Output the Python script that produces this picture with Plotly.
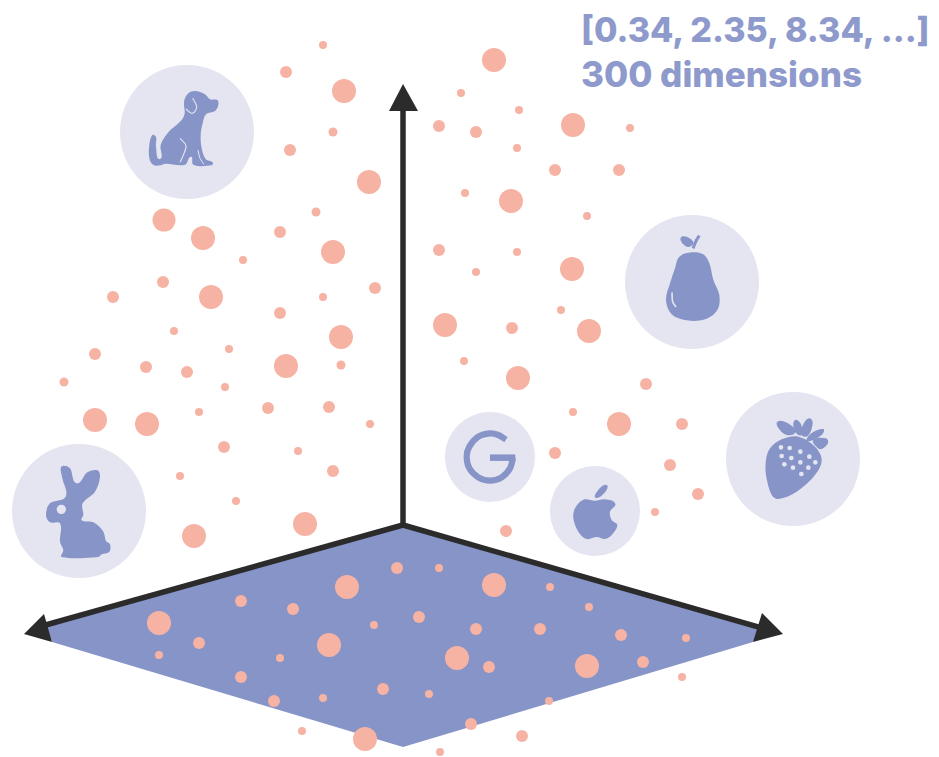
import math
import plotly.graph_objects as go

W, H = 939, 757
PAGE_MARGIN = 8
PEACH = "#f6b3a3"
BLUE = "#8794c8"
PALE = "#e4e5f0"
DARK = "#2b2b2b"
TEXT = "#8e99cc"

# air dots: x, y, diameter
air_x = [323,286,344,333,290,369,164,203,316,280,333,243,163,113,211,375,323,280,174,341,229,95,146,187,286,341,225,64,95,147,199,268,329,370,224,298,180,333,236,305,194,
         494,461,519,439,476,573,630,517,555,619,465,511,587,439,517,476,572,561,445,512,589,464,518,646,573,619,682,555,670,698,655,506]
air_y = [45,72,91,132,150,182,220,238,212,232,252,260,282,297,297,288,297,313,331,337,349,354,367,372,366,365,387,382,420,424,412,408,407,424,447,451,476,471,501,524,536,
         60,93,110,126,132,125,128,148,170,170,193,201,216,250,252,272,269,310,325,328,331,361,378,384,412,424,424,453,465,494,512,531]
air_d = [8,12,24,9,12,24,23,24,9,12,24,8,12,12,24,12,8,12,8,24,8,12,12,12,24,9,8,9,24,24,8,12,12,8,12,8,8,12,8,24,24,
         24,8,8,12,12,24,8,8,12,12,8,24,8,12,8,8,24,8,24,12,24,8,24,12,8,24,12,12,12,12,8,12]

floor_x = [397,439,347,494,550,241,293,589,419,159,374,476,540,621,686,199,329,159,280,457,489,587,643,241,682,383,429,274,323,549,471,522,302,365,440]
floor_y = [568,568,587,585,587,601,609,607,617,623,625,629,629,635,638,643,645,655,658,658,667,666,662,677,677,689,694,701,698,701,724,736,731,739,752]
floor_d = [12,8,24,24,8,12,12,8,12,24,8,12,12,12,8,12,24,8,8,24,12,24,12,12,8,12,8,12,8,8,12,12,8,24,8]

plane_x = [403,760,753,403,52,46]
plane_y = [525,628,642,747,642,624]

axis_x = [[403,403],[403,42],[403,765]]
axis_y = [[525,100],[525,626],[525,629]]
head_x = [[403,389,418],[24,44,52],[783,762,753]]
head_y = [[84,111,111],[634,614,642],[634,613,642]]

badge_x = [187,79,692,793,490,595]
badge_y = [132,511,282,459,457,511]
badge_d = [134,134,134,134,90,90]

text_lines = ["[0.34, 2.35, 8.34, ...]", "300 dimensions"]
text_y = [29,74]
text_size = [34,35]

# icon outlines, in 3x local units with an origin
dog = [(255,108),(285,118),(300,133),(322,135),(325,150),(315,168),(288,178),(278,205),(272,240),(275,280),(287,312),(308,322),(305,331),(250,329),(243,305),(225,329),(165,326),(152,331),(130,330),(118,310),(118,270),(127,240),(138,246),(138,275),(150,312),(152,270),(175,232),(215,195),(224,175),(222,140),(235,115)]
rabbit = [(190,92),(210,100),(230,145),(262,112),(292,106),(300,125),(285,170),(248,205),(250,240),(245,256),(280,262),(310,290),(318,318),(330,328),(328,350),(305,358),(295,366),(185,366),(190,345),(180,320),(180,265),(150,262),(138,240),(150,205),(197,185),(187,130),(182,100)]
pear = [(215,142),(250,148),(268,175),(280,225),(298,270),(292,315),(255,343),(200,346),(155,328),(138,285),(150,235),(165,190),(178,155)]
pear_leaf = [(182,98),(200,95),(220,112),(207,126),(190,118)]
pear_stem = [(238,92),(228,108),(219,130)]
berry = [(150,190),(185,163),(235,155),(285,185),(305,225),(285,270),(230,320),(175,342),(155,330),(138,270),(138,225)]
berry_leaves = [
    [(172,110),(198,112),(226,140),(200,150),(176,130)],
    [(228,104),(243,118),(244,150),(225,140),(220,115)],
    [(268,100),(278,115),(264,152),(244,150),(250,118)],
    [(310,132),(305,150),(262,168),(272,146)],
    [(318,160),(324,174),(305,192),(292,188),(280,166)],
]
seed_x = [183,209,241,185,214,268,241,286,193,219,265,244]
seed_y = [187,189,200,213,219,215,232,232,238,248,248,267]
apple = [(420,310),(445,284),(480,287),(510,283),(541,296),(525,320),(530,345),(547,360),(530,390),(510,402),(485,396),(455,402),(430,380),(415,340)]
apple_leaf = [(515,240),(510,262),(482,278),(490,255)]
g_arc = [(213,104),(190,90),(165,85),(130,95),(103,125),(95,155),(103,190),(130,217),(165,227),(200,217),(225,190),(234,158)]

def spline(points, ox, oy, closed=True):
    """Smooth path through points given in 3x zoom units, without overshoot on uneven spacing."""
    p = [(ox + a / 3, oy + b / 3) for a, b in points]
    n = len(p)

    def tangent(i):
        a = p[(i - 1) % n] if closed or i > 0 else p[i]
        c = p[(i + 1) % n] if closed or i < n - 1 else p[i]
        dx, dy = c[0] - a[0], c[1] - a[1]
        norm = math.hypot(dx, dy) or 1
        return dx / norm, dy / norm

    s = f"M{p[0][0]:.2f},{p[0][1]:.2f}"
    for i in range(n if closed else n - 1):
        j = (i + 1) % n
        b, c = p[i], p[j]
        seg = math.hypot(c[0] - b[0], c[1] - b[1]) * 0.33
        tb, tc = tangent(i), tangent(j)
        s += (f" C{b[0] + tb[0] * seg:.2f},{b[1] + tb[1] * seg:.2f}"
              f" {c[0] - tc[0] * seg:.2f},{c[1] - tc[1] * seg:.2f} {c[0]:.2f},{c[1]:.2f}")
    return s + (" Z" if closed else "")

def fill(points, ox, oy, color=BLUE):
    return dict(type="path", path=spline(points, ox, oy), fillcolor=color, line=dict(width=0), layer="above", xref="x", yref="y")

def stroke(points, ox, oy, width, color=PALE):
    return dict(type="path", path=spline(points, ox, oy, closed=False), line=dict(color=color, width=width), layer="above", xref="x", yref="y")

def dot(cx, cy, r, ox, oy, color=PALE):
    return dict(type="circle", x0=ox + (cx - r) / 3, x1=ox + (cx + r) / 3, y0=oy + (cy - r) / 3, y1=oy + (cy + r) / 3,
                fillcolor=color, line=dict(width=0), layer="above", xref="x", yref="y")

shapes = [
    fill(dog, 110, 55),
    stroke([(248,130),(260,155),(247,175),(228,162)], 110, 55, 1.1),
    stroke([(210,250),(228,272),(220,300),(210,322)], 110, 55, 1.1),
    stroke([(264,285),(270,310),(282,328)], 110, 55, 1.0),
    fill(rabbit, 0, 435),
    dot(184, 223, 14, 0, 435),
    fill(pear, 620, 205),
    fill(pear_leaf, 620, 205),
    stroke(pear_stem, 620, 205, 3, BLUE),
    stroke([(156,262),(158,290),(168,306)], 620, 205, 1.6),
    fill(berry, 720, 385),
]
shapes += [fill(leaf, 720, 385) for leaf in berry_leaves]
shapes += [dot(sx, sy, 7, 720, 385) for sx, sy in zip(seed_x, seed_y)]
shapes += [
    fill(apple, 435, 405),
    fill(apple_leaf, 435, 405),
    stroke(g_arc, 435, 405, 6.2, BLUE),
    dict(type="line", x0=435+165/3, x1=435+241/3, y0=405+158/3, y1=405+158/3, line=dict(color=BLUE, width=6.5), layer="above", xref="x", yref="y"),
]

fig = go.Figure()
fig.add_trace(go.Scatter(x=badge_x, y=badge_y, mode="markers", marker=dict(size=badge_d, color=PALE, opacity=1, line=dict(width=0)), hoverinfo="skip"))
fig.add_trace(go.Scatter(x=air_x, y=air_y, mode="markers", marker=dict(size=air_d, color=PEACH, opacity=1, line=dict(width=0)), hoverinfo="skip"))
fig.add_trace(go.Scatter(x=plane_x, y=plane_y, mode="lines", fill="toself", fillcolor=BLUE, line=dict(width=0, color=BLUE), hoverinfo="skip"))
for ax, ay in zip(axis_x, axis_y):
    fig.add_trace(go.Scatter(x=ax, y=ay, mode="lines", line=dict(color=DARK, width=5.5), hoverinfo="skip"))
for hx, hy in zip(head_x, head_y):
    fig.add_trace(go.Scatter(x=hx, y=hy, mode="lines", fill="toself", fillcolor=DARK, line=dict(width=0, color=DARK), hoverinfo="skip"))
fig.add_trace(go.Scatter(x=floor_x, y=floor_y, mode="markers", marker=dict(size=floor_d, color=PEACH, opacity=1, line=dict(width=0)), hoverinfo="skip"))

annotations = [
    dict(x=579, y=yy, xref="x", yref="y", text=t, showarrow=False, xanchor="left", yanchor="middle",
         font=dict(family="Inter", size=sz, color=TEXT, weight=800))
    for t, yy, sz in zip(text_lines, text_y, text_size)
]

# the page keeps an 8px body margin, so the plot covers what is left of the window
fig.update_layout(
    width=W - PAGE_MARGIN, height=H - PAGE_MARGIN, margin=dict(l=0, r=0, t=0, b=0), showlegend=False,
    paper_bgcolor="white", plot_bgcolor="white", shapes=shapes, annotations=annotations,
    xaxis=dict(range=[PAGE_MARGIN, W], visible=False, fixedrange=True),
    yaxis=dict(range=[H, PAGE_MARGIN], visible=False, fixedrange=True),
)
fig.write_html("out.html", config=dict(displayModeBar=False))
